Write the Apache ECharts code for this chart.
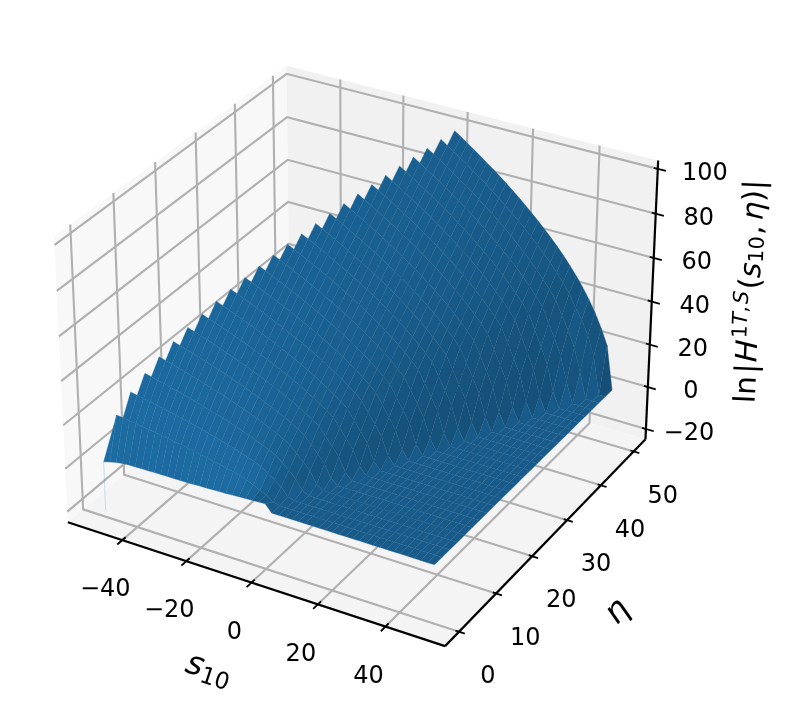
<!DOCTYPE html>
<html><head><meta charset="utf-8">
<style>html,body{margin:0;padding:0;background:#fff}#c{width:794px;height:714px}</style>
<script src="https://cdn.jsdelivr.net/npm/echarts@6/dist/echarts.min.js"></script>
</head><body><div id="c"></div>
<script>
// ---------- values ----------
const sTicks = [-40, -20, 0, 20, 40];
const etaTicks = [0, 10, 20, 30, 40, 50];
const zTicks = [-20, 0, 20, 40, 60, 80, 100];
const sLim = [-57.3, 57.3];
const etaLim = [-3.65, 53.65];
const zLim = [-25, 103.7];
const sMin = -50, sMax = 50, gridStep = 2;
const etaRows = [0,2,4,6,8,10,12,14,16,18,20,22,24,26,28,30,32,34,36,38,40,42,44,46,48,50];
// level of the low plateau (s > eta), one value per eta row
const flatLevel = [1.7,1.7,1.7,1.6,1.6,1.6,1.5,1.5,1.5,1.5,1.4,1.4,1.4,1.3,1.3,1.3,1.3,1.2,1.2,1.2,1.2,1.1,1.1,1.1,1.0,1.0];
// raised part: in each eta row, s runs from eta-50 up to eta in steps of 2
const surfaceZ = [
[0.7,1.5,2.2,2.7,3,3,3.1,3.1,3.2,3.2,3.3,3.3,3.3,3.4,3.5,3.6,3.7,3.8,3.9,4,4.2,4.4,4.6,4.7,4.9,5],
[20,19.6,19.2,18.8,18.3,17.9,17.4,17,16.5,16,15.5,15,14.4,13.9,13.3,12.6,12,11.3,10.6,9.8,8.9,7.4,6,4.8,2.5,1.7],
[28.3,27.7,27.1,26.5,25.9,25.3,24.7,24,23.3,22.6,21.9,21.2,20.4,19.6,18.8,17.9,17,16,15,13.9,12.6,10.5,8.4,6.2,2.6,1.7],
[34.6,33.9,33.2,32.5,31.7,31,30.2,29.4,28.6,27.7,26.8,25.9,25,24,23,21.9,20.8,19.6,18.3,17,15.5,12.9,10.3,7.5,3.1,1.6],
[40,39.2,38.4,37.5,36.7,35.8,34.9,33.9,33,32,31,29.9,28.8,27.7,26.5,25.3,24,22.6,21.2,19.6,17.9,14.9,11.9,8.7,3.6,1.6],
[44.7,43.8,42.9,42,41,40,39,37.9,36.9,35.8,34.6,33.5,32.2,31,29.7,28.3,26.8,25.3,23.7,21.9,20,16.6,13.3,9.7,4,1.6],
[49,48,47,46,44.9,43.8,42.7,41.6,40.4,39.2,37.9,36.7,35.3,33.9,32.5,31,29.4,27.7,25.9,24,21.9,18.2,14.5,10.7,4.4,1.5],
[52.9,51.8,50.8,49.6,48.5,47.3,46.1,44.9,43.6,42.3,41,39.6,38.2,36.7,35.1,33.5,31.7,29.9,28,25.9,23.7,19.7,15.7,11.6,4.8,1.5],
[56.6,55.4,54.3,53.1,51.8,50.6,49.3,48,46.6,45.3,43.8,42.3,40.8,39.2,37.5,35.8,33.9,32,29.9,27.7,25.3,21,16.8,12.3,5.1,1.5],
[60,58.8,57.5,56.3,55,53.7,52.3,50.9,49.5,48,46.5,44.9,43.3,41.6,39.8,37.9,36,33.9,31.7,29.4,26.8,22.3,17.8,13.1,5.4,1.5],
[63.2,62,60.7,59.3,58,56.6,55.1,53.7,52.2,50.6,49,47.3,45.6,43.8,42,40,37.9,35.8,33.5,31,28.3,23.5,18.7,13.8,5.7,1.4],
[66.3,65,63.6,62.2,60.8,59.3,57.8,56.3,54.7,53.1,51.4,49.6,47.8,46,44,42,39.8,37.5,35.1,32.5,29.7,24.6,19.7,14.5,6,1.4],
[69.3,67.9,66.5,65,63.5,62,60.4,58.8,57.1,55.4,53.7,51.8,50,48,46,43.8,41.6,39.2,36.7,33.9,31,25.8,20.5,15.1,6.3,1.4],
[72.1,70.7,69.2,67.6,66.1,64.5,62.9,61.2,59.5,57.7,55.9,54,52,50,47.8,45.6,43.3,40.8,38.2,35.3,32.2,26.8,21.4,15.7,6.5,1.3],
[74.8,73.3,71.8,70.2,68.6,66.9,65.2,63.5,61.7,59.9,58,56,54,51.8,49.6,47.3,44.9,42.3,39.6,36.7,33.5,27.8,22.2,16.3,6.8,1.3],
[77.5,75.9,74.3,72.7,71,69.3,67.5,65.7,63.9,62,60,58,55.9,53.7,51.4,49,46.5,43.8,41,37.9,34.6,28.8,22.9,16.9,7,1.3],
[80,78.4,76.7,75,73.3,71.6,69.7,67.9,66,64,62,59.9,57.7,55.4,53.1,50.6,48,45.3,42.3,39.2,35.8,29.8,23.7,17.4,7.2,1.3],
[82.5,80.8,79.1,77.4,75.6,73.8,71.9,70,68,66,63.9,61.7,59.5,57.1,54.7,52.2,49.5,46.6,43.6,40.4,36.9,30.7,24.5,17.9,7.4,1.2],
[84.9,83.1,81.4,79.6,77.8,75.9,74,72,70,67.9,65.7,63.5,61.2,58.8,56.3,53.7,50.9,48,44.9,41.6,37.9,31.5,25.2,18.5,7.7,1.2],
[87.2,85.4,83.6,81.8,79.9,78,76,74,71.9,69.7,67.5,65.2,62.9,60.4,57.8,55.1,52.3,49.3,46.1,42.7,39,32.5,25.9,19,7.8,1.2],
[89.4,87.6,85.8,83.9,82,80,78,75.9,73.8,71.6,69.3,66.9,64.5,62,59.3,56.6,53.7,50.6,47.3,43.8,40,33.3,26.5,19.5,8.1,1.2],
[91.7,89.8,87.9,86,84,82,79.9,77.8,75.6,73.3,71,68.6,66.1,63.5,60.8,58,55,51.8,48.5,44.9,41,34.1,27.1,19.9,8.2,1.1],
[93.8,91.9,90,88,86,83.9,81.8,79.6,77.4,75,72.7,70.2,67.6,65,62.2,59.3,56.3,53.1,49.6,46,42,35.2,29,21.5,10.5,1.1],
[95.9,94,92,90,87.9,85.8,83.6,81.4,79.1,76.7,74.3,71.8,69.2,66.5,63.6,60.7,57.5,54.3,50.8,47,42.9,36.5,30.5,23.5,13,1.1],
[98,96,94,91.9,89.8,87.6,85.4,83.1,80.8,78.4,75.9,73.3,70.7,67.9,65,62,58.8,55.4,51.8,48,43.8,38,33.5,27,18,1.0],
[100,98,95.9,93.8,91.7,89.4,87.2,84.9,82.5,80,77.5,74.8,72.1,69.3,66.3,63.2,60,56.6,52.9,49,44.7,40,34.6,28.3,21,1.0]
];
// lone downward spike at the far corner of the surface (s, eta, z top, z bottom)
const dipPoint = [-50, 0, 0.7, -22];

// ---------- view set-up (elev 30, azim -60, perspective) ----------
const boxSize = [1.1905, 1.1905, 0.8929], viewDist = 10;
const uVec = [0.866, 0.5, 0], vVec = [-0.25, 0.433, 0.866], nVec = [0.433, -0.75, 0.5];
const dot = (a, b) => a[0]*b[0] + a[1]*b[1] + a[2]*b[2];
function view(s, e, z) {
  const P = [
    ((s - sLim[0]) / (sLim[1] - sLim[0]) - 0.5) * boxSize[0],
    ((e - etaLim[0]) / (etaLim[1] - etaLim[0]) - 0.5) * boxSize[1],
    ((z - zLim[0]) / (zLim[1] - zLim[0]) - 0.5) * boxSize[2]
  ];
  const depth = viewDist - dot(P, nVec);
  return { p: [dot(P, uVec) / depth, dot(P, vVec) / depth], depth };
}
const proj = (s, e, z) => view(s, e, z).p;

// ---------- shading like a light from az 225, alt 19.47 ----------
const baseColor = [31, 119, 180], light = [-0.667, -0.667, 0.333];
const cross = (a, b) => [a[1]*b[2]-a[2]*b[1], a[2]*b[0]-a[0]*b[2], a[0]*b[1]-a[1]*b[0]];
const sub = (a, b) => [a[0]-b[0], a[1]-b[1], a[2]-b[2]];
function shadeOf(n) {
  const len = Math.hypot(n[0], n[1], n[2]) || 1;
  const k = 0.3 + 0.7 * ((dot(n, light) / len + 1) / 2);
  return 'rgb(' + baseColor.map(v => Math.round(v * k)).join(',') + ')';
}

// ---------- surface cells ----------
function zAt(s, e) {
  if (e < etaRows[0] || e > etaRows[etaRows.length - 1] || s < sMin || s > sMax) return null;
  const r = e / gridStep, d = e - s;
  if (d < 0) return flatLevel[r];
  if (d > 50) return null;
  return surfaceZ[r][(50 - d) / gridStep];
}
const lastCellRow = etaRows.length - 2;
const cells = [];
for (let r = 0; r < etaRows.length - 1; r++) {
  for (let s = sMin; s < sMax; s += gridStep) {
    const e0 = etaRows[r], e1 = etaRows[r + 1];
    const raw = [[s, e0], [s + gridStep, e0], [s + gridStep, e1], [s, e1]].map(q => [q[0], q[1], zAt(q[0], q[1])]);
    const valid = raw.filter(q => q[2] !== null);
    if (valid.length < 4 && !(r === 0 && valid.length === 3)) continue;
    const v = valid.length === 4 ? raw : [valid[0], valid[1], valid[2], valid[2]];
    const views = v.map(q => view(q[0], q[1], q[2]));
    // normal: first three corners next to the cliff; a wider stencil on the smooth part
    let normal;
    const nearWall = e0 - (s + gridStep) < 2;
    const zs = v.map(q => q[2]);
    if (nearWall && Math.max(...zs) - Math.min(...zs) < 4.5) {
      normal = [0, 0, 1];
    } else if (nearWall && r < lastCellRow) {
      normal = cross(sub(v[0], v[1]), sub(v[1], v[2]));
    } else {
      const st = gridStep;
      const w = [[s - st, e0 - st], [s + 2 * st, e0 - st], [s + 2 * st, e1 + st], [s - st, e1 + st]].map(q => [q[0], q[1], zAt(q[0], q[1])]);
      const ok = w.every(q => q[2] !== null && q[1] - q[0] >= 2);
      normal = ok ? cross(sub(w[2], w[0]), sub(w[3], w[1])) : cross(sub(v[2], v[0]), sub(v[3], v[1]));
    }
    cells.push({
      pts: views.map(q => q.p),
      depth: views.reduce((a, q) => a + q.depth, 0) / 4,
      fill: shadeOf(normal)
    });
  }
}
cells.sort((a, b) => b.depth - a.depth);

// ---------- panes, grid, axes ----------
const [sA, sB] = sLim, [eA, eB] = etaLim, [zA, zB] = zLim;
const panes = [
  { fill: '#f8f8f8', pts: [proj(sA,eA,zA), proj(sA,eB,zA), proj(sA,eB,zB), proj(sA,eA,zB)] },
  { fill: '#f1f1f1', pts: [proj(sA,eB,zA), proj(sB,eB,zA), proj(sB,eB,zB), proj(sA,eB,zB)] },
  { fill: '#f4f4f4', pts: [proj(sA,eA,zA), proj(sB,eA,zA), proj(sB,eB,zA), proj(sA,eB,zA)] }
];
const gridColor = '#b0b0b0', gridW = 2.1, axisW = 2.2;
const lines = [];
sTicks.forEach(t => lines.push({ color: gridColor, width: gridW, pts: [proj(t,eA,zA), proj(t,eB,zA), proj(t,eB,zB)] }));
etaTicks.forEach(t => lines.push({ color: gridColor, width: gridW, pts: [proj(sB,t,zA), proj(sA,t,zA), proj(sA,t,zB)] }));
zTicks.forEach(t => lines.push({ color: gridColor, width: gridW, pts: [proj(sA,eA,t), proj(sA,eB,t), proj(sB,eB,t)] }));
const axes = [
  { color: '#000', width: axisW, pts: [proj(sA,eA,zA), proj(sB,eA,zA)] },
  { color: '#000', width: axisW, pts: [proj(sB,eA,zA), proj(sB,eB,zA)] },
  { color: '#000', width: axisW, pts: [proj(sB,eB,zA), proj(sB,eB,zB)] }
];
sTicks.forEach(t => axes.push({ color: '#000', width: 1.8, pts: [proj(t,eA-1.2,zA), proj(t,eA+0.8,zA)] }));
etaTicks.forEach(t => axes.push({ color: '#000', width: 1.8, pts: [proj(sB-1,t,zA), proj(sB+1.7,t,zA)] }));
zTicks.forEach(t => axes.push({ color: '#000', width: 1.8, pts: [proj(sB-1.2,eB,t), proj(sB+2.4,eB,t)] }));
const dipLine = [{ color: 'rgba(110,170,215,0.35)', width: 1, pts: [proj(dipPoint[0],dipPoint[1],dipPoint[2]), proj(dipPoint[0],dipPoint[1],dipPoint[3])] }];

// ---------- tick labels ----------
const fontFamily = '"DejaVu Sans"', tickSize = 24;
const fmt = t => (t < 0 ? '\u2212' + (-t) : '' + t);
const texts = [];
sTicks.forEach(t => texts.push({ at: proj(t,eA,zA), dx: -17, dy: 50, text: fmt(t) }));
etaTicks.forEach(t => texts.push({ at: proj(sB,t,zA), dx: 29, dy: 45, text: fmt(t) }));
zTicks.forEach(t => texts.push({ at: proj(sB,eB,t), dx: t === 100 ? 47 : 43, dy: 5, text: fmt(t) }));

// ---------- axis titles ----------
const ctx = document.createElement('canvas').getContext('2d');
function mathGroup(tokens, size, rotationDeg, x, y) {
  let w = 0;
  const items = tokens.map(tk => {
    const fs = size * (tk.k || 1), fstyle = tk.i ? 'italic' : 'normal';
    ctx.font = fstyle + ' ' + fs + 'px ' + fontFamily;
    const item = { text: tk.t, fs, fstyle, x: w, y: (tk.dy || 0) * size };
    w += ctx.measureText(tk.t).width + (tk.gap || 0) * size;
    return item;
  });
  return {
    type: 'group', x, y, rotation: rotationDeg * Math.PI / 180, silent: true,
    children: items.map(it => ({
      type: 'text', x: it.x - w / 2, y: it.y, silent: true,
      style: { text: it.text, fontSize: it.fs, fontStyle: it.fstyle, fontFamily: 'DejaVu Sans', fill: '#000', align: 'left', verticalAlign: 'middle' }
    }))
  };
}
const titles = [
  { at: proj(0,eA,zA), dx: -43, dy: 88, rot: -18.5, size: 33, tokens: [{ t: 's', i: 1 }, { t: '10', k: 0.7, dy: 0.22 }] },
  { at: proj(sB,25,zA), dx: 68, dy: 74, rot: 46, size: 33, tokens: [{ t: '\u03b7', i: 1 }] },
  { at: proj(sB,eB,40), dx: 100, dy: -10, rot: 87.5, size: 29.7, tokens: [
    { t: 'ln', gap: 0.08 }, { t: '|', gap: 0.05 }, { t: 'H', i: 1, gap: 0.04 },
    { t: '1', k: 0.7, dy: -0.3 }, { t: 'T', k: 0.7, dy: -0.3, i: 1 }, { t: ',', k: 0.7, dy: -0.3, gap: 0.06 }, { t: 'S', k: 0.7, dy: -0.3, i: 1, gap: 0.06 },
    { t: '(' }, { t: 's', i: 1 }, { t: '10', k: 0.7, dy: 0.15, gap: 0.05 }, { t: ',', gap: 0.16 }, { t: '\u03b7', i: 1 }, { t: ')' }, { t: '|' }
  ] }
];

// ---------- chart ----------
const toData = list => list.map((it, i) => [(it.at || it.pts[0])[0], (it.at || it.pts[0])[1], i]);
function shapes(list, seam) {
  return function (params, api) {
    const it = list[api.value(2)];
    const pts = it.pts.map(p => api.coord(p));
    if (it.fill) return { type: 'polygon', silent: true, shape: { points: pts }, style: { fill: it.fill, stroke: seam ? it.fill : null, lineWidth: seam || 0 } };
    return { type: 'polyline', silent: true, shape: { points: pts }, style: { stroke: it.color, lineWidth: it.width, fill: null } };
  };
}
function customSeries(list, renderItem, z) {
  return { type: 'custom', coordinateSystem: 'cartesian2d', xAxisIndex: 0, yAxisIndex: 0, clip: false, silent: true, z,
    animation: false, progressive: 0, encode: { x: 0, y: 1 }, data: toData(list), renderItem };
}
const chart = echarts.init(document.getElementById('c'), null, { renderer: 'canvas', width: 794, height: 714 });
chart.setOption({
  animation: false,
  backgroundColor: '#fff',
  grid: { left: 0, right: 0, top: 0, bottom: 0 },
  xAxis: { type: 'value', min: -0.09972, max: 0.11901, show: false },
  yAxis: { type: 'value', min: -0.10192, max: 0.0937, show: false },
  series: [
    customSeries(panes, shapes(panes), 1),
    customSeries(lines, shapes(lines), 2),
    customSeries(axes, shapes(axes), 3),
    customSeries(dipLine, shapes(dipLine), 4),
    customSeries(cells, shapes(cells, 0.3), 5),
    customSeries(texts, function (params, api) {
      const it = texts[api.value(2)], c = api.coord(it.at);
      return { type: 'text', x: c[0] + it.dx, y: c[1] + it.dy, silent: true,
        style: { text: it.text, fontSize: tickSize, fontFamily: 'DejaVu Sans', fill: '#000', align: 'center', verticalAlign: 'middle' } };
    }, 6),
    customSeries(titles, function (params, api) {
      const it = titles[api.value(2)], c = api.coord(it.at);
      return mathGroup(it.tokens, it.size, it.rot, c[0] + it.dx, c[1] + it.dy);
    }, 7)
  ]
});
</script></body></html>
